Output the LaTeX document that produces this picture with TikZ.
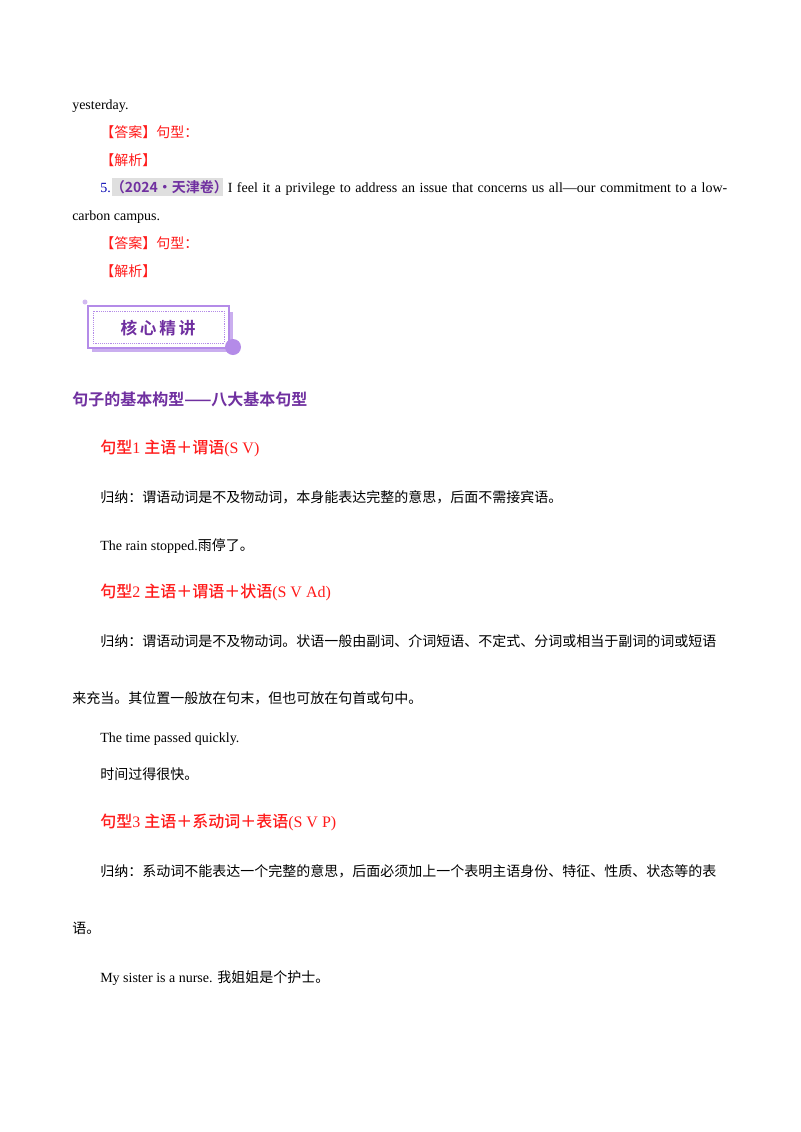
\documentclass[tikz,border=0pt]{standalone}
\usepackage{fontspec}
\setmainfont{Liberation Serif}
\newfontfamily\cjk{Noto Sans CJK SC}
\newfontfamily\cjkb{Noto Sans CJK SC Bold}
\newfontfamily\cjkm{Noto Sans CJK SC Medium}
\XeTeXlinebreaklocale "zh"
\XeTeXlinebreakskip=0pt plus 1pt
\definecolor{myred}{HTML}{FF1A1A}
\definecolor{mypurple}{HTML}{7030A0}
\definecolor{lpurple}{HTML}{B48BE8}
\begin{document}
\begin{tikzpicture}[x=0.75pt,y=-0.75pt,
  txt/.style={anchor=base west,inner sep=0pt,font=\fontsize{10.5}{12}\selectfont},
  red/.style={txt,text=myred},
  head/.style={anchor=base west,inner sep=0pt,text=myred,font=\fontsize{12}{14}\selectfont}]
\useasboundingbox[fill=white] (0,0) rectangle (800,1132);
\node[txt] (t1) at (72,109) {yesterday.};
\node[red] (a1) at (100,137) {\cjk 【答案】句型：};
\node[red] (j1) at (100,165) {\cjk 【解析】};
\fill[gray!25] (112,178) rectangle (223,196);
\node[txt] (q5) at (100,192) {\makebox[627\dimexpr0.75pt][s]{{\color{blue!70!black}5.}{\cjkb\color{mypurple}（2024·天津卷）}I feel it a privilege to address an issue that concerns us all—our commitment to a low-}};
\node[txt] (q5b) at (72,220) {carbon campus.};
\node[red] (a2) at (100,248) {\cjk 【答案】句型：};
\node[red] (j2) at (100,276) {\cjk 【解析】};
% banner
\fill[lpurple!70] (92,312) rectangle (233,352);
\fill[white] (88,306) rectangle (229,348);
\draw[lpurple,line width=1pt] (88,306) rectangle (229,348);
\draw[lpurple,densely dotted] (93,311) rectangle (224,343);
\fill[lpurple] (233,347) circle (8);
\fill[lpurple!60] (85,302) circle (2.5);
\node[font=\cjkb\fontsize{12.5}{14}\selectfont,text=mypurple] (ban) at (158,328) {核\,心\,精\,讲};
\node[anchor=base west,inner sep=0pt,text=mypurple,font=\cjkb\fontsize{12}{14}\selectfont] (h0) at (72,405) {句子的基本构型——八大基本句型};
\node[head] (h1) at (100,453) {{\cjkm 句型}1\ {\cjkm 主语＋谓语}(S V)};
\node[txt] (g1) at (100,502) {\cjk 归纳：谓语动词是不及物动词，本身能表达完整的意思，后面不需接宾语。};
\node[txt] (e1) at (100,550) {The rain stopped.{\cjk 雨停了。}};
\node[head] (h2) at (100,597) {{\cjkm 句型}2\ {\cjkm 主语＋谓语＋状语}(S V Ad)};
\node[txt] (g2) at (100,646) {\makebox[627\dimexpr0.75pt][s]{\cjk 归纳：谓语动词是不及物动词。状语一般由副词、介词短语、不定式、分词或相当于副词的词或短语}};
\node[txt] (g2b) at (72,703) {\cjk 来充当。其位置一般放在句末，但也可放在句首或句中。};
\node[txt] (e2) at (100,742) {The time passed quickly.};
\node[txt] (e2b) at (100,779) {\cjk 时间过得很快。};
\node[head] (h3) at (100,827) {{\cjkm 句型}3\ {\cjkm 主语＋系动词＋表语}(S V P)};
\node[txt] (g3) at (100,876) {\makebox[627\dimexpr0.75pt][s]{\cjk 归纳：系动词不能表达一个完整的意思，后面必须加上一个表明主语身份、特征、性质、状态等的表}};
\node[txt] (g3b) at (72,933) {\cjk 语。};
\node[txt] (e3) at (100,982) {My sister is a nurse. {\cjk 我姐姐是个护士。}};
\end{tikzpicture}
\end{document}
